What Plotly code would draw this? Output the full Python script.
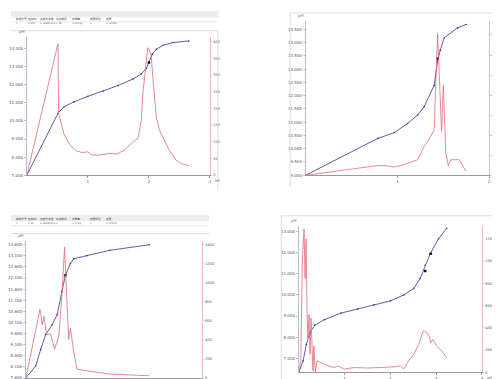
import plotly.graph_objects as go

W, H = 500, 379
def px(x): return x / W
def py(y): return 1 - y / H

# ---------------- data ----------------
# Panel 1 (top-left)
p1_vol = [0, 0.513, 0.605, 0.768, 1.0, 1.254, 1.498, 1.74, 1.876, 1.957, 2.0, 2.055, 2.12, 2.23, 2.39, 2.65]
p1_ph = [7.0, 10.44, 10.77, 11.05, 11.36, 11.65, 11.96, 12.32, 12.6, 12.9, 13.23, 13.69, 13.96, 14.18, 14.33, 14.42]
p1_dvol = [0, 0.51, 0.52, 0.551, 0.605, 0.686, 0.795, 0.903, 1.0, 1.065, 1.2, 1.362, 1.47, 1.605, 1.74, 1.82,
           1.876, 1.90, 1.93, 1.957, 1.98, 2.01, 2.04, 2.06, 2.09, 2.12, 2.17, 2.25, 2.33, 2.44, 2.52, 2.65]
p1_d = [0, 394, 187, 166, 125, 96, 74, 68, 70, 61, 60, 66, 63, 76, 100, 110,
        166, 244, 293, 350, 382, 375, 353, 303, 234, 175, 136, 106, 76, 46, 35, 29]
p1_ep = ([2.0], [13.23])

# Panel 2 (top-right)
p2_vol = [0, 0.786, 0.967, 1.11, 1.22, 1.29, 1.40, 1.438, 1.467, 1.51, 1.655, 1.75]
p2_ph = [9.0, 10.39, 10.61, 10.95, 11.27, 11.58, 12.39, 13.32, 13.72, 14.19, 14.56, 14.69]
p2_dvol = [0, 0.786, 0.86, 0.967, 1.076, 1.22, 1.29, 1.33, 1.40, 1.438, 1.481, 1.50, 1.528, 1.554, 1.583, 1.674, 1.746]
p2_d = [0, 96, 96, 82, 106, 155, 287, 336, 451, 1413, 435, 896, 220, 96, 155, 155, 40]
p2_ep = ([1.44], [13.4])

# Panel 3 (bottom-left)
p3_vol = [0, 0.112, 0.169, 0.225, 0.30, 0.356, 0.41, 0.45, 0.506, 0.543, 0.693, 0.955, 1.405]
p3_ph = [7.6, 8.15, 8.89, 9.56, 10.0, 10.45, 11.49, 12.23, 12.75, 12.97, 13.11, 13.35, 13.6]
p3_dvol = [0, 0.161, 0.187, 0.206, 0.236, 0.281, 0.326, 0.375, 0.41, 0.44, 0.457, 0.487, 0.506, 0.543, 0.581, 0.693, 0.955, 1.405]
p3_d = [0, 724, 561, 648, 457, 464, 301, 440, 873, 1375, 1011, 405, 527, 284, 94, 76, 42, 24]
p3_ep = ([0.45], [12.23])

# Panel 4 (bottom-right)
p4_vol = [0, 0.094, 0.166, 0.238, 0.346, 0.562, 0.922, 1.283, 1.643, 2.004, 2.29, 2.51, 2.65, 2.76, 2.87, 3.05, 3.23]
p4_ph = [6.33, 6.875, 7.66, 8.20, 8.56, 8.83, 9.14, 9.34, 9.53, 9.72, 10.0, 10.31, 10.78, 11.41, 11.95, 12.66, 13.16]
p4_dvol = [0, 0.043, 0.079, 0.115, 0.137, 0.159, 0.18, 0.20, 0.223, 0.245, 0.267, 0.288, 0.31, 0.33, 0.36, 0.40,
           0.49, 0.634, 0.78, 0.85, 0.995, 1.21, 1.50, 1.79, 2.08, 2.22, 2.29, 2.40, 2.51, 2.62, 2.72, 2.80,
           2.85, 2.88, 2.93, 3.01, 3.12, 3.23]
p4_d = [0, 104, 1022, 1289, 844, 1200, 548, 311, 519, 163, 489, 193, 15, 237, 0, 104,
        89, 59, 44, 59, 30, 44, 39, 44, 50, 59, 30, 104, 163, 252, 376, 356,
        326, 267, 296, 237, 193, 133]
p4_ep = ([2.76, 2.88], [11.13, 11.95])

# axis tick labels
p1_lticks = [7, 8, 9, 10, 11, 12, 13, 14]
p1_rticks = [0, 50, 100, 150, 200, 250, 300, 350, 400]
p2_lticks = [9.0, 9.5, 10.0, 10.5, 11.0, 11.5, 12.0, 12.5, 13.0, 13.5, 14.0, 14.5]
p2_rticks = [0, 200, 400, 600, 800, 1000, 1200, 1400]
p3_lticks = [7.6, 8.1, 8.6, 9.1, 9.6, 10.1, 10.6, 11.1, 11.6, 12.1, 12.6, 13.1, 13.6]
p3_rticks = [0, 200, 400, 600, 800, 1000, 1200, 1400]
p4_lticks = [7, 8, 9, 10, 11, 12, 13]
p4_rticks = [0, 200, 400, 600, 800, 1000, 1200]

header_cols = ["实验序号", "空白mL", "滴定剂浓度", "终点体积", "称样量", "结果单位", "结果"]
header_vals1 = ["1", "2.657", "0.0998mol/L", "1.48", "2.6309g", "4", "5.2328%"]
header_vals3 = ["1", "2.44", "0.0998mol/L", "0", "0.573g", "1", "1.6732%"]

BLUE = "#34349a"
RED = "#e3697a"

panels = [
    dict(vol=p1_vol, ph=p1_ph, dvol=p1_dvol, d=p1_d, ep=p1_ep, x0=16, x1=201, yb=169, yt=29,
         xr=[0, 3], lr=[7, 14.655], rr=[0, 414.8], lt=p1_lticks, rt=p1_rticks, xt=[1, 2, 3]),
    dict(vol=p2_vol, ph=p2_ph, dvol=p2_dvol, d=p2_d, ep=p2_ep, x0=297.7, x1=483, yb=169, yt=13,
         xr=[0, 2], lr=[9, 14.825], rr=[0, 1541], lt=p2_lticks, rt=p2_rticks, xt=[1, 2]),
    dict(vol=p3_vol, ph=p3_ph, dvol=p3_dvol, d=p3_d, ep=p3_ep, x0=15, x1=192.7, yb=374, yt=235,
         xr=[0, 2], lr=[7.6, 13.79], rr=[0, 1444.7], lt=p3_lticks, rt=p3_rticks, xt=[1, 2]),
    dict(vol=p4_vol, ph=p4_ph, dvol=p4_dvol, d=p4_d, ep=p4_ep, x0=290.7, x1=475.7, yb=368.3, yt=220.7,
         xr=[0, 4], lr=[6.33, 13.25], rr=[0, 1312], lt=p4_lticks, rt=p4_rticks, xt=[1, 2, 3, 4]),
]

fig = go.Figure()
layout = {}
annotations = []
shapes = []
TF = dict(size=4, color="#555", family="DejaVu Sans")

for i, p in enumerate(panels, start=1):
    xa = "x" if i == 1 else f"x{i}"
    yl_n = 2 * i - 1
    yr_n = 2 * i
    yl = "y" if yl_n == 1 else f"y{yl_n}"
    yr = f"y{yr_n}"
    xkey = "xaxis" if i == 1 else f"xaxis{i}"
    ylkey = "yaxis" if yl_n == 1 else f"yaxis{yl_n}"
    yrkey = f"yaxis{yr_n}"
    ydom = [py(p["yb"]), py(p["yt"])]
    layout[xkey] = dict(domain=[px(p["x0"]), px(p["x1"])], range=p["xr"], anchor=yl,
                        showgrid=False, zeroline=False, showline=True, linecolor="#9a9a9a", linewidth=1,
                        tickvals=p["xt"], ticktext=[str(t) for t in p["xt"]], ticks="outside", ticklen=2,
                        tickcolor="#9a9a9a", tickfont=TF, fixedrange=True)
    layout[ylkey] = dict(domain=ydom, range=p["lr"], anchor=xa, side="left",
                         showgrid=False, zeroline=False, showline=True, linecolor="#b9b9e6", linewidth=1,
                         tickvals=p["lt"], ticktext=[f"{t:.3f}" for t in p["lt"]], ticks="outside", ticklen=2,
                         tickcolor="#b9b9e6", tickfont=TF, fixedrange=True)
    layout[yrkey] = dict(range=p["rr"], anchor=xa, overlaying=yl, side="right",
                         showgrid=False, zeroline=False, showline=True, linecolor="#f2b8c4", linewidth=1,
                         tickvals=p["rt"], ticktext=[str(t) for t in p["rt"]], ticks="outside", ticklen=1.5,
                         tickcolor="#f2b8c4", tickfont=dict(size=3.6, color="#555", family="DejaVu Sans"),
                         fixedrange=True)
    fig.add_trace(go.Scatter(x=p["dvol"], y=p["d"], xaxis=xa, yaxis=yr, mode="lines",
                             line=dict(color=RED, width=0.8), showlegend=False))
    fig.add_trace(go.Scatter(x=p["vol"], y=p["ph"], xaxis=xa, yaxis=yl, mode="lines+markers",
                             line=dict(color=BLUE, width=0.8), marker=dict(size=1.6, color=BLUE),
                             showlegend=False))
    fig.add_trace(go.Scatter(x=p["ep"][0], y=p["ep"][1], xaxis=xa, yaxis=yl, mode="markers",
                             marker=dict(size=2.5, color="#111", symbol="square"), showlegend=False))
    annotations.append(dict(x=px(p["x0"] - 1), y=py(p["yt"] - 1), xref="paper", yref="paper", text="pH",
                            showarrow=False, font=dict(size=4, color="#555"), xanchor="right", yanchor="bottom"))
    annotations.append(dict(x=px(p["x1"] + 3), y=py(p["yb"] + 1), xref="paper", yref="paper", text="ml",
                            showarrow=False, font=dict(size=4, color="#555"), xanchor="left", yanchor="top"))

# headers (tables above left panels)
col_x = [3, 15, 27, 43, 60, 78, 94]
for (y0, vals) in [(7, header_vals1), (213, header_vals3)]:
    for cx, t, v in zip(col_x, header_cols, vals):
        annotations.append(dict(x=px(cx), y=py(y0), xref="paper", yref="paper", text=t, showarrow=False,
                                font=dict(size=2.7, color="#444", family="Noto Sans CJK SC"), xanchor="left"))
        annotations.append(dict(x=px(cx), y=py(y0 + 5), xref="paper", yref="paper", text=v, showarrow=False,
                                font=dict(size=2.5, color="#666", family="DejaVu Sans"), xanchor="left"))

def rect(x0, y0, x1, y1, fill=None, line=None):
    d = dict(type="rect", xref="paper", yref="paper", x0=px(x0), x1=px(x1), y0=py(y1), y1=py(y0), layer="below")
    d["fillcolor"] = fill if fill else "rgba(0,0,0,0)"
    d["line"] = dict(width=0.8 if line else 0, color=line if line else "rgba(0,0,0,0)")
    return d

def hline(x0, x1, y, color="#d4d4d4"):
    return dict(type="line", xref="paper", yref="paper", x0=px(x0), x1=px(x1), y0=py(y), y1=py(y),
                line=dict(color=color, width=0.8))

def vline(x, y0, y1, color="#d4d4d4"):
    return dict(type="line", xref="paper", yref="paper", x0=px(x), x1=px(x), y0=py(y0), y1=py(y1),
                line=dict(color=color, width=0.8))

shapes += [
    rect(0, 3, 210, 9.5, fill="#ededed"),
    hline(0, 210, 14, "#e4e4e4"),
    hline(0, 209, 23), vline(209, 23, 185),
    rect(0, 209, 200, 215.5, fill="#ededed"),
    hline(0, 200, 220, "#e4e4e4"),
    hline(0, 200, 228),
    hline(282, 492, 5), vline(282, 5, 180),
    hline(273, 492, 210), vline(273, 210, 379),
    dict(type="rect", xref="paper", yref="paper", x0=px(496.5), x1=1, y0=0, y1=1,
         fillcolor="#000", line=dict(width=0), layer="above"),
]

fig.update_layout(width=W, height=H, autosize=False, margin=dict(l=0, r=0, t=0, b=0),
                  paper_bgcolor="white", plot_bgcolor="white", annotations=annotations, shapes=shapes,
                  **layout)
fig.write_html("out.html")
